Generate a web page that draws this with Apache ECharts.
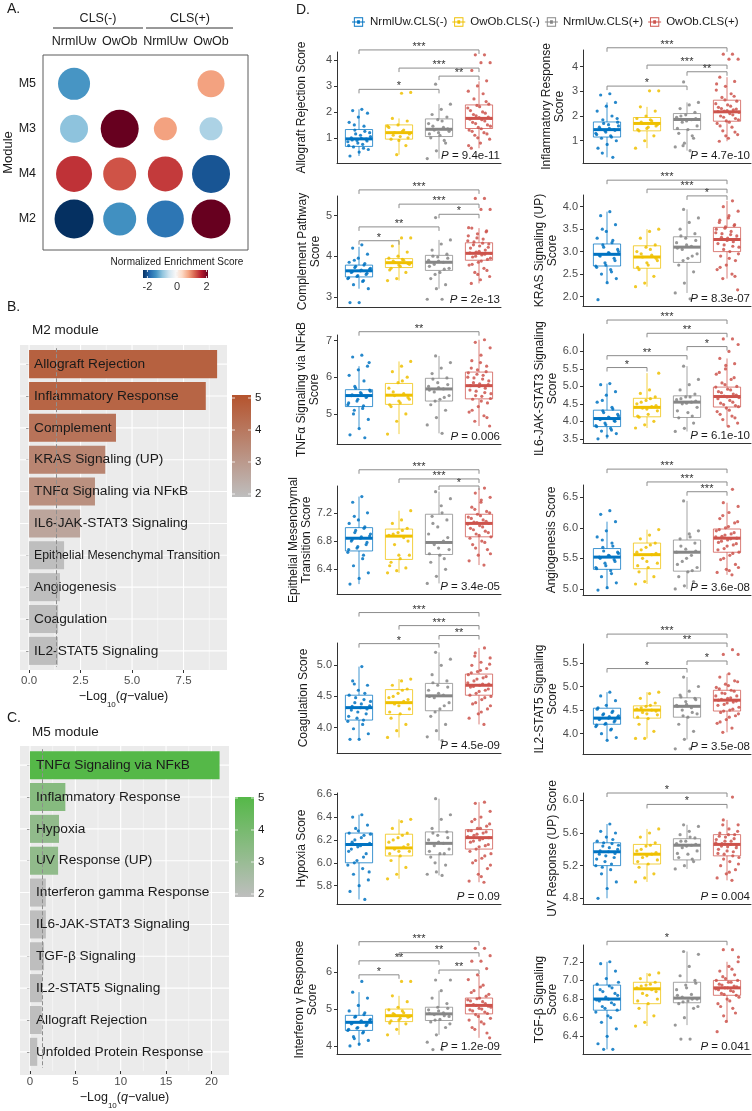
<!DOCTYPE html>
<html><head><meta charset="utf-8">
<script src="https://cdn.jsdelivr.net/npm/echarts@6/dist/echarts.min.js"></script>
<style>html,body{margin:0;padding:0;background:#fff}#c{width:752px;height:1111px}</style>
</head><body><div id="c"></div>
<script>
// ================= DATA =================
const groupNames = ['NrmlUw.CLS(-)', 'OwOb.CLS(-)', 'NrmlUw.CLS(+)', 'OwOb.CLS(+)'];

// ---- Panel A: module enrichment ----
const moduleCols = ['NrmlUw', 'OwOb', 'NrmlUw', 'OwOb'];
const moduleRows = ['M2', 'M4', 'M3', 'M5']; // bottom -> top
const moduleCells = [[0,3],[3,3],[0,2],[1,2],[2,2],[3,2],[0,1],[1,1],[2,1],[3,1],[0,0],[1,0],[2,0],[3,0]];
const moduleNES = [-1.4, 0.8, -1.0, 2.1, 0.8, -0.8, 1.5, 1.3, 1.45, -2.0, -2.3, -1.45, -1.7, 2.1];
const moduleSig = [0.6, 0.35, 0.4, 0.9, 0.15, 0.15, 0.8, 0.65, 0.75, 0.9, 0.95, 0.65, 0.85, 0.95];
const nesTicks = [-2, 0, 2];

// ---- Panel B: M2 module ----
const m2Terms = ['Allograft Rejection', 'Inflammatory Response', 'Complement', 'KRAS Signaling (UP)', 'TNFα Signaling via NFκB', 'IL6-JAK-STAT3 Signaling', 'Epithelial Mesenchymal Transition', 'Angiogenesis', 'Coagulation', 'IL2-STAT5 Signaling'];
const m2LogQ = [9.13, 8.58, 4.22, 3.7, 3.2, 2.48, 1.7, 1.5, 1.41, 1.4];
const m2Genes = [4.6, 4.5, 4.1, 3.6, 3.3, 2.7, 2.0, 2.0, 2.0, 2.0];
const m2Ticks = ['0.0', '2.5', '5.0', '7.5'];
const m2Minor = [1.25, 3.75, 6.25, 8.75];

// ---- Panel C: M5 module ----
const m5Terms = ['TNFα Signaling via NFκB', 'Inflammatory Response', 'Hypoxia', 'UV Response (UP)', 'Interferon gamma Response', 'IL6-JAK-STAT3 Signaling', 'TGF-β Signaling', 'IL2-STAT5 Signaling', 'Allograft Rejection', 'Unfolded Protein Response'];
const m5LogQ = [20.9, 3.9, 3.2, 3.1, 1.75, 1.75, 1.55, 1.35, 1.3, 0.8];
const m5Genes = [5.0, 3.6, 3.3, 3.3, 2.0, 2.0, 2.0, 2.0, 2.0, 1.5];
const m5Ticks = ['0', '5', '10', '15', '20'];
const m5Minor = [2.5, 7.5, 12.5, 17.5];
const countTicks = ['2', '3', '4', '5'];
const qCutoff = 1.3;

// ---- Panel D: hallmark scores (box = [low, Q1, median, Q3, high]) ----
const arBox = [[0.3,0.67,0.96,1.32,2.1],[0.35,0.95,1.2,1.5,1.75],[0.2,1.05,1.33,1.73,2.3],[0.6,1.36,1.75,2.27,3.18]];
const arPts = [[2.1,2.05,1.95,1.8,1.6,1.45,1.3,1.2,1.1,1.0,0.95,0.9,0.85,0.75,0.65,0.55,0.45,0.3,1.25,1.15,1.05,0.98,0.92,0.88,0.8,0.7,0.6,1.5],
  [2.75,2.72,1.75,1.65,1.5,1.4,1.3,1.2,1.15,1.05,0.95,0.7,0.35,1.45,1.25,1.1,1.0,0.9],
  [3.07,2.3,2.1,1.9,1.8,1.7,1.55,1.4,1.3,1.25,1.1,1.0,0.8,0.5,0.2,1.65,1.45,1.35,1.2,1.15,0.9],
  [4.2,4.2,3.9,3.9,3.6,3.2,3.0,2.8,2.7,2.5,2.3,2.2,2.05,1.95,1.85,1.75,1.7,1.6,1.5,1.4,1.3,1.2,1.1,0.95,0.8,0.6,2.4,2.25,2.15,2.0,1.9,1.8,1.78,1.72,1.65,1.55,1.45,1.35,1.25,1.15,1.0,0.7]];
const arSig = [[1,4,4.39,3],[2,4,3.69,3],[3,4,3.38,2],[1,3,2.87,1]];

const irBox = [[0.33,1.15,1.45,1.76,2.55],[0.7,1.4,1.7,1.94,2.37],[0.6,1.45,1.86,2.1,2.55],[0.98,1.79,2.17,2.64,3.57]];
const irPts = [[2.9,2.85,2.55,2.4,2.2,2.0,1.85,1.75,1.65,1.55,1.45,1.4,1.3,1.2,1.1,1.0,0.85,0.7,0.33,1.7,1.6,1.5,1.48,1.42,1.35,1.25,1.15,0.5,1.9],
  [3.02,3.02,2.37,2.2,2.0,1.9,1.8,1.7,1.65,1.55,1.4,1.2,1.0,0.7,1.85,1.75,1.6,1.5,1.45],
  [3.38,2.55,2.45,2.3,2.15,2.05,1.95,1.85,1.75,1.6,1.45,1.3,1.1,0.9,0.75,0.6,2.0,1.9,1.8,1.5,1.2,0.8],
  [4.5,4.5,4.3,4.3,3.57,3.4,3.2,3.05,2.9,2.75,2.6,2.45,2.35,2.25,2.2,2.15,2.1,2.0,1.9,1.8,1.7,1.55,1.4,1.25,1.1,0.98,2.8,2.65,2.5,2.4,2.3,2.28,2.22,2.18,2.05,1.95,1.85,1.75,1.6,1.35,1.2,3.3]];
const irSig = [[1,4,4.76,3],[2,4,4.06,3],[3,4,3.79,2],[1,3,3.21,1]];

const cpBox = [[3.2,3.49,3.64,3.78,4.23],[3.4,3.72,3.84,3.94,4.41],[3.2,3.65,3.85,4.02,4.4],[3.33,3.9,4.07,4.33,4.69]];
const cpPts = [[4.28,4.2,4.05,3.95,3.85,3.78,3.72,3.68,3.64,3.6,3.55,3.5,3.45,3.38,3.3,3.2,2.86,2.86,3.82,3.75,3.7,3.66,3.62,3.58,3.52,3.47,3.4,3.9],
  [4.45,4.45,4.25,4.1,4.0,3.95,3.9,3.85,3.8,3.75,3.7,3.6,3.45,3.4,3.92,3.88,3.82,3.78,3.66],
  [4.95,4.4,4.3,4.15,4.05,3.98,3.9,3.85,3.8,3.7,3.6,3.45,3.3,3.2,2.94,2.94,4.0,3.95,3.88,3.75,3.68,3.55],
  [5.42,5.42,5.15,5.15,4.69,4.62,4.55,4.5,4.42,4.35,4.3,4.25,4.2,4.15,4.1,4.07,4.03,3.98,3.92,3.85,3.78,3.7,3.6,3.5,3.42,3.33,4.6,4.45,4.38,4.32,4.28,4.22,4.12,4.08,4.05,4.0,3.95,3.88,3.8,3.65,3.55,4.7]];
const cpSig = [[1,4,5.63,3],[2,4,5.28,3],[3,4,5.03,1],[1,3,4.72,2],[1,2,4.38,1]];

const krBox = [[2.31,2.68,2.94,3.17,3.89],[2.22,2.63,2.88,3.13,3.5],[2.08,2.76,3.1,3.33,3.94],[2.4,3.0,3.27,3.54,4.13]];
const krPts = [[3.89,3.8,3.6,3.45,3.3,3.2,3.15,3.05,2.98,2.92,2.85,2.75,2.68,2.6,2.5,2.4,2.31,1.93,3.25,3.1,3.0,2.96,2.9,2.8,2.7,2.65,2.55,3.5],
  [3.5,3.45,3.3,3.15,3.1,3.0,2.92,2.88,2.8,2.7,2.6,2.45,2.3,2.22,3.05,2.95,2.85,2.75,2.65],
  [3.94,3.75,3.65,3.5,3.4,3.3,3.2,3.12,3.05,2.95,2.85,2.7,2.55,2.3,2.08,1.95,3.35,3.25,3.15,3.08,2.9,2.8],
  [4.13,4.0,3.9,3.8,3.7,3.6,3.55,3.5,3.45,3.4,3.35,3.3,3.27,3.22,3.15,3.1,3.0,2.9,2.8,2.7,2.6,2.5,2.4,2.15,3.75,3.65,3.58,3.52,3.42,3.38,3.32,3.28,3.25,3.18,3.12,3.05,2.95,2.85,2.65,2.45]];
const krSig = [[1,4,4.59,3],[2,4,4.39,3],[3,4,4.24,1]];

const tnBox = [[4.6,5.2,5.5,5.66,6.3],[4.45,5.26,5.51,5.83,6.43],[4.47,5.35,5.68,5.97,6.58],[4.67,5.41,5.77,6.14,7.02]];
const tnPts = [[6.6,6.55,6.3,6.2,6.05,5.9,5.75,5.65,5.58,5.5,5.45,5.35,5.25,5.15,5.0,4.85,4.6,4.43,4.35,5.7,5.62,5.55,5.52,5.48,5.4,5.3,5.22,5.1,6.4],
  [6.43,6.3,6.15,6.0,5.85,5.7,5.55,5.5,5.4,5.3,5.2,5.0,4.8,4.45,5.9,5.6,5.45,5.35,5.25],
  [6.58,6.4,6.25,6.1,5.98,5.85,5.75,5.68,5.6,5.5,5.4,5.25,5.1,4.9,4.7,4.47,5.95,5.8,5.72,5.65,5.45,5.35],
  [7.02,6.95,6.8,6.6,6.45,6.3,6.2,6.12,6.05,5.98,5.9,5.82,5.77,5.7,5.62,5.55,5.48,5.4,5.3,5.2,5.05,4.95,4.8,4.67,6.4,6.25,6.15,6.08,6.0,5.95,5.85,5.8,5.75,5.65,5.58,5.5,5.42,5.35,5.1,4.9]];
const tnSig = [[1,4,7.24,2]];

const i6Box = [[3.5,3.85,4.08,4.32,5.08],[3.81,4.13,4.4,4.66,5.38],[3.71,4.11,4.55,4.73,5.58],[3.86,4.41,4.71,4.98,5.8]];
const i6Pts = [[5.08,5.05,4.85,4.75,4.55,4.4,4.3,4.2,4.12,4.08,4.02,3.95,3.88,3.8,3.72,3.65,3.58,3.5,4.35,4.25,4.15,4.1,4.05,4.0,3.9,3.85,3.75,4.6],
  [5.38,4.9,4.8,4.7,4.6,4.5,4.42,4.38,4.3,4.2,4.12,4.0,3.9,3.81,4.65,4.55,4.45,4.35,4.15],
  [5.58,5.2,5.05,4.9,4.78,4.7,4.62,4.55,4.5,4.4,4.25,4.1,3.95,3.8,3.71,4.7,4.65,4.58,4.52,4.3,4.15],
  [6.36,6.36,6.2,6.0,5.8,5.65,5.5,5.35,5.2,5.1,5.0,4.92,4.85,4.78,4.72,4.68,4.6,4.52,4.45,4.38,4.28,4.15,4.05,3.95,3.86,5.4,5.25,5.05,4.98,4.9,4.82,4.75,4.7,4.65,4.55,4.48,4.42,4.32,4.2,4.1,5.6]];
const i6Sig = [[1,4,6.9,3],[2,4,6.52,2],[3,4,6.14,1],[1,3,5.88,2],[1,2,5.54,1]];

const emBox = [[6.19,6.66,6.84,6.99,7.43],[6.35,6.54,6.87,6.97,7.23],[6.2,6.61,6.78,7.18,7.5],[6.46,6.86,7.05,7.18,7.55]];
const emPts = [[7.43,7.35,7.2,7.1,7.05,6.98,6.92,6.87,6.84,6.8,6.75,6.7,6.64,6.55,6.45,6.35,6.27,6.19,7.0,6.95,6.9,6.86,6.82,6.78,6.72,6.68,6.6,7.15],
  [7.23,7.1,7.05,6.98,6.92,6.88,6.85,6.75,6.6,6.55,6.5,6.42,6.38,6.35,6.95,6.9,6.8,6.6,6.45],
  [7.5,7.4,7.3,7.15,7.1,7.0,6.9,6.8,6.75,6.68,6.6,6.5,6.4,6.3,6.2,7.2,7.05,6.85,6.7,6.62,6.55],
  [7.55,7.48,7.42,7.35,7.28,7.22,7.18,7.14,7.1,7.07,7.05,7.02,6.98,6.94,6.9,6.86,6.8,6.75,6.68,6.6,6.52,6.46,7.25,7.2,7.16,7.12,7.08,7.06,7.04,7.0,6.96,6.92,6.88,6.84,6.78,6.7,6.62,7.38]];
const emSig = [[1,4,7.81,3],[2,4,7.68,3],[3,4,7.58,1]];

const anBox = [[5.0,5.32,5.52,5.66,6.1],[5.08,5.33,5.56,5.75,5.97],[5.0,5.29,5.6,5.8,6.44],[5.23,5.6,5.83,5.98,6.41]];
const anPts = [[6.28,6.22,6.1,5.95,5.85,5.75,5.68,5.6,5.55,5.52,5.48,5.42,5.35,5.3,5.2,5.1,5.02,4.98,5.7,5.62,5.58,5.54,5.5,5.45,5.38,5.33,5.25,5.8],
  [5.97,5.88,5.82,5.75,5.68,5.6,5.56,5.5,5.42,5.35,5.28,5.2,5.12,5.08,5.72,5.64,5.58,5.45,5.38],
  [6.44,5.95,5.9,5.82,5.75,5.65,5.6,5.55,5.45,5.35,5.28,5.2,5.12,5.05,5.0,5.85,5.7,5.62,5.5,5.4,5.3],
  [6.63,6.41,6.35,6.25,6.15,6.08,6.0,5.95,5.9,5.86,5.83,5.8,5.76,5.72,5.66,5.6,5.55,5.48,5.4,5.32,5.27,5.23,6.2,6.1,6.02,5.97,5.92,5.88,5.85,5.82,5.78,5.74,5.7,5.64,5.58,5.5,5.35,5.3]];
const anSig = [[1,4,6.96,3],[2,4,6.75,3],[3,4,6.59,3]];

const coBox = [[3.81,4.12,4.32,4.52,4.98],[3.84,4.21,4.4,4.61,4.78],[3.79,4.27,4.51,4.71,5.21],[4.05,4.52,4.68,4.86,5.28]];
const coPts = [[4.98,4.75,4.68,4.6,4.52,4.45,4.4,4.35,4.32,4.28,4.22,4.15,4.1,4.05,3.98,3.9,3.81,3.81,4.55,4.48,4.42,4.38,4.34,4.3,4.25,4.18,4.12,4.7],
  [4.78,4.75,4.68,4.62,4.55,4.48,4.42,4.38,4.3,4.22,4.15,4.05,3.95,3.84,4.6,4.5,4.45,4.35,4.25],
  [5.21,5.1,5.0,4.85,4.75,4.68,4.6,4.52,4.48,4.4,4.3,4.18,4.05,3.95,3.85,3.79,4.72,4.65,4.55,4.5,4.35,4.25],
  [5.28,5.2,5.12,5.05,5.0,4.95,4.9,4.85,4.8,4.75,4.7,4.68,4.65,4.6,4.55,4.5,4.45,4.38,4.3,4.22,4.15,4.05,5.15,5.02,4.92,4.88,4.82,4.78,4.72,4.7,4.66,4.62,4.58,4.52,4.48,4.4,4.35,4.25]];
const coSig = [[1,4,5.85,3],[2,4,5.64,3],[3,4,5.48,2],[1,3,5.35,1]];

const i2Box = [[3.86,4.2,4.33,4.54,4.88],[3.9,4.33,4.5,4.59,4.88],[3.88,4.35,4.58,4.76,5.2],[4.03,4.48,4.71,4.92,5.27]];
const i2Pts = [[4.88,4.8,4.7,4.6,4.52,4.45,4.4,4.35,4.33,4.3,4.25,4.2,4.15,4.08,4.0,3.92,3.86,4.55,4.48,4.42,4.38,4.36,4.32,4.28,4.22,4.18,4.1],
  [4.88,4.85,4.75,4.65,4.58,4.52,4.5,4.45,4.4,4.32,4.2,4.05,3.9,3.9,4.6,4.55,4.48,4.42,4.35],
  [5.2,5.0,4.9,4.82,4.75,4.68,4.6,4.55,4.5,4.42,4.35,4.2,4.05,3.88,3.68,3.68,4.78,4.72,4.62,4.58,4.45,4.38],
  [5.78,5.68,5.68,5.27,5.2,5.12,5.05,4.98,4.92,4.86,4.8,4.75,4.71,4.67,4.62,4.56,4.5,4.45,4.38,4.3,4.22,4.12,4.03,5.1,5.02,4.95,4.9,4.85,4.8,4.76,4.73,4.69,4.65,4.6,4.52,4.48,4.42,4.35,4.25]];
const i2Sig = [[1,4,6.11,3],[2,4,5.92,2],[3,4,5.54,1],[1,3,5.38,1]];

const hyBox = [[5.68,6.0,6.16,6.26,6.42],[5.86,6.06,6.13,6.25,6.38],[5.89,6.07,6.17,6.27,6.56],[5.83,6.12,6.22,6.29,6.53]];
const hyPts = [[6.42,6.4,6.33,6.28,6.26,6.24,6.2,6.17,6.15,6.12,6.08,6.02,5.98,5.95,5.9,5.85,5.8,5.75,5.68,6.3,6.25,6.22,6.18,6.16,6.14,6.1,6.05,6.0,5.92],
  [6.38,6.36,6.3,6.26,6.22,6.18,6.14,6.12,6.1,6.06,6.02,5.96,5.9,5.86,6.24,6.2,6.16,6.1,6.08],
  [6.56,6.42,6.38,6.3,6.27,6.24,6.2,6.17,6.15,6.12,6.08,6.05,5.98,5.92,5.9,5.89,6.26,6.22,6.18,6.1,6.08,6.0],
  [6.53,6.52,6.45,6.4,6.36,6.32,6.3,6.28,6.26,6.24,6.22,6.2,6.18,6.15,6.12,6.08,6.04,6.0,5.95,5.9,5.84,5.83,6.38,6.34,6.3,6.28,6.27,6.25,6.23,6.21,6.19,6.16,6.14,6.1,6.06,6.02,5.98,5.88]];
const hySig = [];

const uvBox = [[4.8,5.2,5.37,5.48,5.71],[5.0,5.22,5.34,5.46,5.65],[5.16,5.27,5.45,5.53,5.7],[5.02,5.32,5.46,5.58,5.76]];
const uvPts = [[5.71,5.62,5.6,5.55,5.5,5.47,5.44,5.4,5.37,5.34,5.3,5.25,5.2,5.15,5.1,5.0,4.92,4.8,5.52,5.48,5.45,5.42,5.38,5.35,5.32,5.28,5.22,5.18],
  [5.65,5.6,5.55,5.48,5.44,5.38,5.34,5.3,5.27,5.22,5.18,5.1,5.05,5.0,5.45,5.4,5.36,5.32,5.25],
  [5.7,5.68,5.62,5.58,5.54,5.5,5.47,5.45,5.42,5.38,5.34,5.3,5.25,5.2,5.16,5.55,5.5,5.46,5.44,5.35,5.28],
  [6.04,5.76,5.7,5.65,5.6,5.58,5.55,5.52,5.5,5.47,5.45,5.43,5.4,5.37,5.34,5.3,5.25,5.2,5.15,5.1,5.05,5.02,5.7,5.62,5.58,5.56,5.53,5.5,5.48,5.46,5.44,5.42,5.38,5.35,5.32,5.28,5.22,5.12]];
const uvSig = [[1,4,6.09,1],[2,4,5.95,1]];

const ifBox = [[4.0,4.42,4.64,4.83,5.46],[4.3,4.66,4.82,5.0,5.36],[4.3,4.69,4.87,5.05,5.5],[4.22,4.87,5.1,5.3,5.93]];
const ifPts = [[5.75,5.46,5.3,5.1,4.95,4.85,4.78,4.7,4.65,4.6,4.55,4.48,4.42,4.35,4.25,4.15,4.05,4.0,4.9,4.8,4.72,4.68,4.62,4.58,4.5,4.45,4.38,4.2],
  [5.75,5.75,5.36,5.2,5.05,4.98,4.9,4.85,4.8,4.75,4.68,4.6,4.45,4.3,4.95,4.88,4.78,4.7,4.62],
  [5.79,5.79,5.5,5.3,5.15,5.05,4.98,4.9,4.85,4.8,4.72,4.65,4.5,4.3,4.1,3.9,3.9,5.02,4.95,4.88,4.82,4.7,4.6],
  [6.65,6.65,6.45,6.3,6.3,6.1,5.93,5.8,5.65,5.5,5.4,5.3,5.22,5.15,5.1,5.05,5.0,4.95,4.88,4.8,4.7,4.6,4.45,4.22,5.6,5.45,5.35,5.28,5.25,5.2,5.12,5.08,5.02,4.98,4.92,4.85,4.75,4.65,4.5,4.35]];
const ifSig = [[1,4,6.83,3],[2,4,6.53,2],[1,3,6.31,2],[3,4,6.06,2],[1,2,5.93,1]];

const tgBox = [[6.26,6.68,6.8,6.95,7.2],[6.51,6.75,6.91,6.98,7.08],[6.52,6.76,6.81,6.98,7.31],[6.56,6.84,6.92,7.0,7.2]];
const tgPts = [[7.2,7.18,7.1,7.02,6.96,6.92,6.88,6.84,6.8,6.78,6.74,6.7,6.66,6.6,6.55,6.48,6.4,6.32,6.26,6.26,6.98,6.94,6.9,6.86,6.82,6.79,6.76,6.72,6.68,6.62],
  [7.08,7.06,7.02,6.98,6.95,6.92,6.9,6.86,6.8,6.75,6.7,6.62,6.55,6.51,6.96,6.94,6.88,6.84,6.78],
  [7.31,7.28,7.15,7.05,7.0,6.95,6.9,6.85,6.82,6.8,6.78,6.75,6.7,6.6,6.52,6.37,6.37,6.97,6.92,6.84,6.8,6.77,6.72],
  [7.33,7.33,7.2,7.15,7.1,7.06,7.02,7.0,6.98,6.95,6.93,6.92,6.9,6.88,6.85,6.82,6.78,6.72,6.65,6.56,6.45,7.12,7.04,7.0,6.98,6.96,6.94,6.92,6.91,6.89,6.86,6.84,6.8,6.75,6.7,6.62,7.25]];
const tgSig = [[1,4,7.42,1]];

const dNames = ['Allograft Rejection Score', 'Inflammatory Response\nScore', 'Complement Pathway\nScore', 'KRAS Signaling (UP)\nScore',
  'TNFα Signaling via NFκB\nScore', 'IL6-JAK-STAT3 Signaling\nScore', 'Epithelial Mesenchymal\nTransition Score', 'Angiogenesis Score',
  'Coagulation Score', 'IL2-STAT5 Signaling\nScore', 'Hypoxia Score', 'UV Response (UP) Score', 'Interferon γ Response\nScore', 'TGF-β Signaling\nScore'];
const dPvals = ['9.4e-11', '4.7e-10', '2e-13', '8.3e-07', '0.006', '6.1e-10', '3.4e-05', '3.6e-08', '4.5e-09', '3.5e-08', '0.09', '0.004', '1.2e-09', '0.041'];
const dRanges = [[0.03,4.31],[0.1,4.67],[2.75,5.48],[1.79,4.26],[4.18,7.15],[3.38,6.5],[6.05,7.58],[4.9,6.7],[3.59,5.36],[3.57,5.9],[5.64,6.61],[4.73,6.09],[3.78,6.74],[6.21,7.38]];
const dTicks = [['1','2','3','4'],['1','2','3','4'],['3','4','5'],['2.0','2.5','3.0','3.5','4.0'],['5','6','7'],['3.5','4.0','4.5','5.0','5.5','6.0'],
  ['6.4','6.8','7.2'],['5.0','5.5','6.0','6.5'],['4.0','4.5','5.0'],['4.0','4.5','5.0','5.5'],['5.8','6.0','6.2','6.4','6.6'],['4.8','5.2','5.6','6.0'],['4','5','6'],['6.4','6.6','6.8','7.0','7.2']];
const dBoxes = [arBox, irBox, cpBox, krBox, tnBox, i6Box, emBox, anBox, coBox, i2Box, hyBox, uvBox, ifBox, tgBox];
const dPoints = [arPts, irPts, cpPts, krPts, tnPts, i6Pts, emPts, anPts, coPts, i2Pts, hyPts, uvPts, ifPts, tgPts];
const dSigs = [arSig, irSig, cpSig, krSig, tnSig, i6Sig, emSig, anSig, coSig, i2Sig, hySig, uvSig, ifSig, tgSig];

// ================= STYLE / LAYOUT =================
const FONT = '"Liberation Sans", Arial, Helvetica, sans-serif';
const groupColors = ['#0073C2', '#EFC000', '#868686', '#CD534C'];
const rdbu = ['#053061','#2166ac','#4393c3','#92c5de','#d1e5f0','#f7f7f7','#fddbc7','#f4a582','#d6604d','#b2182b','#67001f'];
const m2Low = '#bebebe', m2High = '#b5532d';
const m5Low = '#bebebe', m5High = '#55b848';
const dLayout = [[52,111,29],[50,113,17],[196,111,12],[195,111,15],[335,109,16],[334,109,15],[486,108,18],[485,110,25],
  [643,110,27],[644,110,17],[793,111,29],[793,111,20],[945,109,18],[945,109,17]];
const colLeft = [{left:337, width:164, min:0.45, max:4.55}, {left:583, width:168, min:0.4, max:4.6}];

const grids = [], xAxes = [], yAxes = [], series = [], graphics = [], visualMaps = [];

function txt(x, y, text, o) {
  const st = Object.assign({text: text, fontFamily: FONT, fontSize: 12, fill: '#1a1a1a', textAlign: 'left', textVerticalAlign: 'middle'}, o || {});
  st.align = st.textAlign; st.verticalAlign = st.textVerticalAlign;
  return {type: 'text', x: x, y: y, silent: true, z: 10, style: st};
}
function hline(x1, y1, x2, y2, color, w) {
  return {type: 'line', silent: true, z: 10, shape: {x1, y1, x2, y2}, style: {stroke: color, lineWidth: w || 1}};
}

// ---------- Panel A ----------
graphics.push(txt(7, 9, 'A.', {fontSize: 14}));
graphics.push(txt(98, 19, 'CLS(-)', {fontSize: 12.5, textAlign: 'center'}));
graphics.push(txt(190, 19, 'CLS(+)', {fontSize: 12.5, textAlign: 'center'}));
graphics.push(hline(53, 28, 143, 28, '#333', 1));
graphics.push(hline(146, 28, 233, 28, '#333', 1));
grids.push({left: 43, top: 55, width: 205, height: 195, show: true, borderColor: '#5a5a5a', borderWidth: 1, backgroundColor: '#fff'});
xAxes.push({type: 'value', gridIndex: 0, min: -0.68, max: 3.81, position: 'top', axisLine: {show: false}, axisTick: {show: false}, splitLine: {show: false},
  axisLabel: {customValues: [0,1,2,3], formatter: v => moduleCols[Math.round(v)], fontSize: 12.5, color: '#1a1a1a', margin: 7, fontFamily: FONT}});
yAxes.push({type: 'value', gridIndex: 0, min: -0.69, max: 3.64, axisLine: {show: false}, splitLine: {show: false},
  axisTick: {show: true, length: 4, customValues: [0,1,2,3], lineStyle: {color: '#333'}},
  axisLabel: {customValues: [0,1,2,3], formatter: v => moduleRows[Math.round(v)], fontSize: 12.5, color: '#1a1a1a', margin: 7, fontFamily: FONT},
  name: 'Module', nameLocation: 'middle', nameGap: 24, nameTextStyle: {fontSize: 13, color: '#1a1a1a', fontFamily: FONT}});
const seriesA = series.length;
series.push({type: 'scatter', xAxisIndex: 0, yAxisIndex: 0, silent: true,
  data: moduleCells.map((c, i) => [c[0], c[1], moduleSig[i], moduleNES[i]]), itemStyle: {opacity: 1}});
visualMaps.push({show: false, type: 'continuous', seriesIndex: seriesA, dimension: 3, min: -2.3, max: 2.1, inRange: {color: rdbu}});
visualMaps.push({show: false, type: 'continuous', seriesIndex: seriesA, dimension: 2, min: 0, max: 1, inRange: {symbolSize: [20, 40]}});
graphics.push(txt(177, 262, 'Normalized Enrichment Score', {fontSize: 10, textAlign: 'center'}));
const cbX0 = 143, cbW = 65, nesMin = -2.3, nesMax = 2.1;
graphics.push({type: 'rect', silent: true, z: 10, shape: {x: cbX0, y: 270, width: cbW, height: 8},
  style: {fill: {type: 'linear', x: 0, y: 0, x2: 1, y2: 0, colorStops: rdbu.map((c, i) => ({offset: i / (rdbu.length - 1), color: c}))}}});
nesTicks.forEach(t => {
  const x = cbX0 + (t - nesMin) / (nesMax - nesMin) * cbW;
  graphics.push(hline(x, 270, x, 272, '#fff', 0.8));
  graphics.push(hline(x, 276, x, 278, '#fff', 0.8));
  graphics.push(txt(x, 287, String(t), {fontSize: 11, fill: '#333', textAlign: 'center'}));
});

// ---------- gridline renderers for B and C ----------
function renderVLine(params, api) {
  const cs = params.coordSys;
  const x = api.coord([api.value(0), 0])[0];
  const ext = cs.height / 102;
  return {type: 'line', shape: {x1: x, y1: cs.y - ext, x2: x, y2: cs.y + cs.height + ext},
    style: {stroke: '#ffffff', lineWidth: api.value(2) ? 1.1 : 0.5}};
}
function renderHLine(params, api) {
  const cs = params.coordSys;
  const y = api.coord([0, api.value(1)])[1];
  return {type: 'line', shape: {x1: cs.x, y1: y, x2: cs.x + cs.width, y2: y}, style: {stroke: '#ffffff', lineWidth: 1.1}};
}

function enrichPanel(cfg) {
  const gi = grids.length;
  graphics.push({type: 'rect', silent: true, z: -5, shape: {x: cfg.bgX, y: cfg.bgY, width: cfg.bgW, height: cfg.bgH}, style: {fill: '#ebebeb'}});
  const pad = cfg.bgH / 102;
  grids.push({left: cfg.bgX, top: cfg.bgY + pad, width: cfg.bgW, height: cfg.bgH - 2 * pad});
  const tv = cfg.ticks.map(Number);
  xAxes.push({type: 'value', gridIndex: gi, min: cfg.min, max: cfg.max, offset: pad, axisLine: {show: false}, splitLine: {show: false},
    axisTick: {show: true, length: 3, customValues: tv, lineStyle: {color: '#333'}},
    axisLabel: {customValues: tv, formatter: v => cfg.ticks[tv.findIndex(t => Math.abs(t - v) < 1e-6)] || '', fontSize: 11.5, color: '#4d4d4d', margin: 5, fontFamily: FONT},
    name: '−Log{s|10}({q|q}−value)', nameLocation: 'middle', nameGap: 19,
    nameTextStyle: {fontSize: 12.5, color: '#1a1a1a', fontFamily: FONT, lineHeight: 16,
      rich: {s: {fontSize: 8, fontFamily: FONT, color: '#1a1a1a', lineHeight: 16, verticalAlign: 'bottom', padding: [0, 0, -4, 0]}, q: {fontSize: 12.5, fontStyle: 'italic', fontFamily: FONT, color: '#1a1a1a', lineHeight: 16}}}});
  yAxes.push({type: 'category', gridIndex: gi, data: cfg.terms, inverse: true, axisLine: {show: false},
    axisTick: {show: true, length: 3, alignWithLabel: true, lineStyle: {color: '#333'}}, axisLabel: {show: false}, splitLine: {show: false}});
  const vdata = tv.map(v => [v, 0, 1]).concat(cfg.minor.map(v => [v, 0, 0]));
  series.push({type: 'custom', xAxisIndex: gi, yAxisIndex: gi, z: 1, silent: true, renderItem: renderVLine, data: vdata});
  series.push({type: 'custom', xAxisIndex: gi, yAxisIndex: gi, z: 1, silent: true, renderItem: renderHLine, data: cfg.terms.map((t, i) => [0, i])});
  const si = series.length;
  series.push({type: 'bar', xAxisIndex: gi, yAxisIndex: gi, z: 2, silent: true, barWidth: '88%', encode: {x: 0, y: 1},
    data: cfg.values.map((v, i) => [v, i, cfg.genes[i]]),
    label: {show: true, position: 'insideLeft', distance: cfg.labelDist, color: '#1a1a1a', fontFamily: FONT, fontSize: 13.7,
      formatter: p => cfg.terms[p.dataIndex].length > 28 ? '{s|' + cfg.terms[p.dataIndex] + '}' : cfg.terms[p.dataIndex],
      rich: {s: {fontSize: 12.3, fontFamily: FONT, color: '#1a1a1a'}}},
    markLine: {silent: true, symbol: 'none', label: {show: false}, lineStyle: {type: 'dashed', color: '#8f8f8f', width: 1}, data: [{xAxis: qCutoff}]}});
  visualMaps.push({show: false, type: 'continuous', seriesIndex: si, dimension: 2, min: 2, max: 5, inRange: {color: [cfg.low, cfg.high]}, outOfRange: {color: '#d6d6d6'}});
  graphics.push({type: 'rect', silent: true, z: 10, shape: {x: cfg.cbX, y: cfg.cbY, width: 19, height: cfg.cbH},
    style: {fill: {type: 'linear', x: 0, y: 0, x2: 0, y2: 1, colorStops: [{offset: 0, color: cfg.high}, {offset: 1, color: cfg.low}]}}});
  countTicks.forEach(t => {
    const y = cfg.cb2 - (Number(t) - 2) * cfg.cbStep;
    graphics.push(hline(cfg.cbX, y, cfg.cbX + 3, y, '#fff', 0.8));
    graphics.push(hline(cfg.cbX + 16, y, cfg.cbX + 19, y, '#fff', 0.8));
    graphics.push(txt(cfg.cbX + 23, y, t, {fontSize: 11.5, fill: '#1a1a1a'}));
  });
}

// ---------- Panel B ----------
graphics.push(txt(7, 307, 'B.', {fontSize: 14}));
graphics.push(txt(32, 330, 'M2 module', {fontSize: 13.5}));
enrichPanel({bgX: 20, bgY: 345, bgW: 207, bgH: 325, min: -0.44, max: 9.61, ticks: m2Ticks, minor: m2Minor, terms: m2Terms, values: m2LogQ, genes: m2Genes,
  low: m2Low, high: m2High, labelDist: 5, cbX: 232, cbY: 395, cbH: 102, cb2: 494, cbStep: 32});

// ---------- Panel C ----------
graphics.push(txt(7, 718, 'C.', {fontSize: 14}));
graphics.push(txt(32, 732, 'M5 module', {fontSize: 13.5}));
enrichPanel({bgX: 20, bgY: 746, bgW: 209, bgH: 329, min: -1.1, max: 21.94, ticks: m5Ticks, minor: m5Minor, terms: m5Terms, values: m5LogQ, genes: m5Genes,
  low: m5Low, high: m5High, labelDist: 6, cbX: 235, cbY: 797, cbH: 100, cb2: 894, cbStep: 32});

// ---------- Panel D ----------
graphics.push(txt(296, 10, 'D.', {fontSize: 14}));
function jit(i, g) { return (((i + 1) * 0.6180339887 + g * 0.37) % 1 - 0.5) * 0.6; }
function renderBox(params, api) {
  const g = api.value(0);
  const c = groupColors[g - 1];
  const lo = api.coord([g, api.value(1)]), q1 = api.coord([g, api.value(2)]), md = api.coord([g, api.value(3)]),
        q3 = api.coord([g, api.value(4)]), hi = api.coord([g, api.value(5)]);
  const w = api.size([0.68, 0])[0];
  const x = lo[0];
  const st = {stroke: c, lineWidth: 1, opacity: 0.75, fill: 'none'};
  return {type: 'group', children: [
    {type: 'line', shape: {x1: x, y1: hi[1], x2: x, y2: q3[1]}, style: st},
    {type: 'line', shape: {x1: x, y1: q1[1], x2: x, y2: lo[1]}, style: st},
    {type: 'rect', shape: {x: x - w / 2, y: q3[1], width: w, height: q1[1] - q3[1]}, style: st},
    {type: 'line', shape: {x1: x - w / 2, y1: md[1], x2: x + w / 2, y2: md[1]}, style: {stroke: c, lineWidth: 3}}
  ]};
}
function renderSig(params, api) {
  const p1 = api.coord([api.value(0), api.value(2)]), p2 = api.coord([api.value(1), api.value(2)]);
  const n = Math.round(api.value(3));
  return {type: 'group', children: [
    {type: 'polyline', shape: {points: [[p1[0], p1[1] + 4], [p1[0], p1[1]], [p2[0], p2[1]], [p2[0], p2[1] + 4]]}, style: {stroke: '#8c8c8c', lineWidth: 1, fill: 'none'}},
    {type: 'text', x: (p1[0] + p2[0]) / 2, y: p1[1] + 2.5, style: {text: '*'.repeat(n), fontFamily: FONT, fontSize: 11, fill: '#333',
      textAlign: 'center', textVerticalAlign: 'bottom', align: 'center', verticalAlign: 'bottom'}}
  ]};
}

dNames.forEach((nm, k) => {
  const gi = grids.length;
  const col = colLeft[k % 2];
  const [top, height, gap] = dLayout[k];
  grids.push({left: col.left, top: top, width: col.width, height: height});
  xAxes.push({type: 'value', gridIndex: gi, min: col.min, max: col.max, axisLine: {show: true, lineStyle: {color: '#333', width: 1}},
    axisTick: {show: false}, axisLabel: {show: false}, splitLine: {show: false}});
  const tstr = dTicks[k], tv = tstr.map(Number);
  yAxes.push({type: 'value', gridIndex: gi, min: dRanges[k][0], max: dRanges[k][1], splitLine: {show: false},
    axisLine: {show: true, lineStyle: {color: '#333', width: 1}},
    axisTick: {show: true, length: 3, customValues: tv, lineStyle: {color: '#333'}},
    axisLabel: {customValues: tv, formatter: v => tstr[tv.findIndex(t => Math.abs(t - v) < 1e-6)] || '', fontSize: 11, color: '#4d4d4d', margin: 5, fontFamily: FONT},
    name: nm, nameLocation: 'middle', nameGap: gap, nameTextStyle: {fontSize: 12, color: '#1a1a1a', fontFamily: FONT, lineHeight: 13}});
  dPoints[k].forEach((pts, g) => {
    series.push({type: 'scatter', name: groupNames[g], xAxisIndex: gi, yAxisIndex: gi, z: 2, silent: true, symbolSize: 3.2,
      itemStyle: {color: groupColors[g], opacity: 0.85},
      data: pts.map((v, i) => [g + 1 + jit(i, g), v])});
  });
  series.push({type: 'custom', xAxisIndex: gi, yAxisIndex: gi, z: 3, silent: true, renderItem: renderBox, encode: {x: 0, y: [1, 2, 3, 4, 5]},
    data: dBoxes[k].map((b, g) => [g + 1].concat(b))});
  if (dSigs[k].length) {
    series.push({type: 'custom', xAxisIndex: gi, yAxisIndex: gi, z: 3, silent: true, clip: false, renderItem: renderSig, encode: {x: [0, 1], y: 2},
      data: dSigs[k]});
  }
  graphics.push({type: 'text', silent: true, z: 10, x: col.left + col.width - 1, y: top + height - 7,
    style: {text: '{i|P} = ' + dPvals[k], rich: {i: {fontStyle: 'italic', fontSize: 11.5, fontFamily: FONT, fill: '#1a1a1a'}},
      fontSize: 11.5, fontFamily: FONT, fill: '#1a1a1a', textAlign: 'right', textVerticalAlign: 'middle', align: 'right', verticalAlign: 'middle'}});
});

const boxIcon = 'path://M2,1L12,1L12,11L2,11Z M3,2L3,10L11,10L11,2Z M0,5.4L14,5.4L14,6.6L0,6.6Z M5.5,4L8.5,4L8.5,8L5.5,8Z';

const option = {
  animation: false,
  backgroundColor: '#ffffff',
  textStyle: {fontFamily: FONT},
  legend: {data: groupNames.map((n, i) => ({name: n, icon: boxIcon, itemStyle: {color: groupColors[i], opacity: 1}})),
    left: 347, top: 11, itemWidth: 13, itemHeight: 12, itemGap: 5, selectedMode: false,
    textStyle: {fontSize: 11.5, color: '#1a1a1a', fontFamily: FONT}},
  grid: grids, xAxis: xAxes, yAxis: yAxes, visualMap: visualMaps, series: series, graphic: {elements: graphics}
};
const chart = echarts.init(document.getElementById('c'), null, {renderer: 'canvas', width: 752, height: 1111});
chart.setOption(option);
</script>
</body></html>
